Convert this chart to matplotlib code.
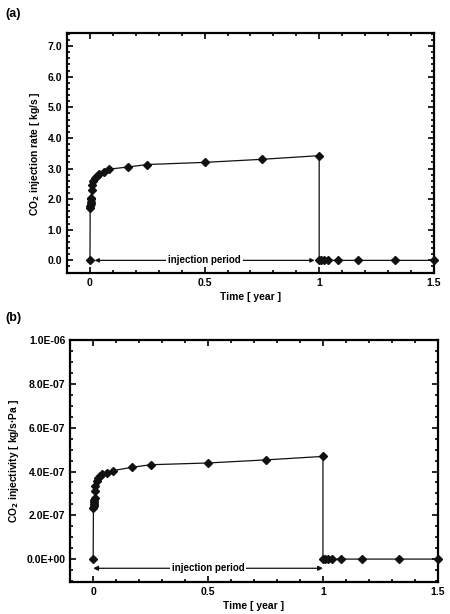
import matplotlib
matplotlib.use("Agg")
import matplotlib.pyplot as plt
from matplotlib.ticker import MultipleLocator, FormatStrFormatter, FuncFormatter
import numpy as np

plt.rcParams['font.family'] = ['Liberation Sans', 'DejaVu Sans']
plt.rcParams['font.weight'] = 'bold'

# ---- data ----
t_inj = [0.0, 0.001, 0.002, 0.003, 0.004, 0.005, 0.006, 0.008, 0.010, 0.015,
         0.020, 0.030, 0.040, 0.060, 0.085, 0.167, 0.250, 0.500, 0.750, 1.000]
rate_inj = [0.0, 1.72, 1.78, 1.85, 1.92, 2.00, 2.05, 2.30, 2.45, 2.60,
            2.68, 2.75, 2.82, 2.90, 2.98, 3.05, 3.13, 3.20, 3.30, 3.42]
injectivity_inj = [0.0, 2.35, 2.42, 2.50, 2.60, 2.70, 2.80, 3.10, 3.35, 3.55,
                   3.70, 3.80, 3.88, 3.93, 4.04, 4.19, 4.31, 4.39, 4.53, 4.69]  # x1e-7

t_post = [1.0, 1.01, 1.02, 1.04, 1.08, 1.17, 1.33, 1.50]
rate_post = [0, 0, 0, 0, 0, 0, 0, 0]
injectivity_post = [0, 0, 0, 0, 0, 0, 0, 0]

x_ticks = [0, 0.5, 1, 1.5]
x_tick_labels = ["0", "0.5", "1", "1.5"]

t_all = t_inj + t_post
rate_all = rate_inj + rate_post
inj_all = [v * 1e-7 for v in injectivity_inj] + [v * 1e-7 for v in injectivity_post]

fig = plt.figure(figsize=(4.5, 6.14), dpi=100)
ax1 = fig.add_axes([0.149, 0.555, 0.815, 0.391])
ax2 = fig.add_axes([0.156, 0.052, 0.817, 0.394])

lc = '#111111'
fs_tick = 7.5
fs_lab = 7.4

def style(ax):
    for s in ax.spines.values():
        s.set_linewidth(1.6)
    ax.tick_params(which='both', direction='in', top=True, right=True, labelsize=fs_tick, width=1.2)
    ax.tick_params(which='major', length=4)
    ax.tick_params(which='minor', length=2.2)
    ax.set_xlim(-0.1, 1.5)
    ax.set_xticks(x_ticks)
    ax.set_xticklabels(x_tick_labels)
    ax.xaxis.set_minor_locator(MultipleLocator(0.1))
    for lab in ax.get_xticklabels() + ax.get_yticklabels():
        lab.set_fontweight('bold')
    ax.set_xlabel("Time [ year ]", fontsize=fs_lab, fontweight='bold', labelpad=3)

# panel a
ax1.plot(t_all, rate_all, color=lc, lw=0.9, marker='D', ms=4, mfc=lc, mec=lc, zorder=3, clip_on=False)
ax1.set_ylim(-0.42, 7.42)
ax1.set_yticks(np.arange(0, 7.01, 1.0))
ax1.yaxis.set_major_formatter(FormatStrFormatter('%.1f'))
ax1.yaxis.set_minor_locator(MultipleLocator(0.2))
style(ax1)
ax1.set_ylabel("CO$_2$ injection rate [ kg/s ]", fontsize=fs_lab, fontweight='bold', labelpad=4)
ax1.annotate("", xy=(0.02, 0), xytext=(0.98, 0),
             arrowprops=dict(arrowstyle='<|-|>', color=lc, lw=0.9, mutation_scale=6, shrinkA=0, shrinkB=0), zorder=2)
ax1.text(0.5, 0, "injection period", ha='center', va='center', fontsize=7, fontweight='bold',
         bbox=dict(facecolor='white', edgecolor='none', pad=1.5), zorder=4)
fig.text(0.012, 0.977, "(a)", fontsize=9, fontweight='bold', ha='left', va='center')

# panel b
ax2.plot(t_all, inj_all, color=lc, lw=0.9, marker='D', ms=4, mfc=lc, mec=lc, zorder=3, clip_on=False)
ax2.set_ylim(-1.05e-7, 1.0e-6)
ax2.set_yticks(np.arange(0, 1.01e-6, 2e-7))
ax2.yaxis.set_major_formatter(FuncFormatter(lambda v, p: "%.1E" % v))
ax2.yaxis.set_minor_locator(MultipleLocator(0.5e-7))
style(ax2)
ax2.set_ylabel("CO$_2$ injectivity [ kg/s·Pa ]", fontsize=fs_lab, fontweight='bold', labelpad=4)
ax2.annotate("", xy=(0.0, -0.42e-7), xytext=(1.0, -0.42e-7),
             arrowprops=dict(arrowstyle='<|-|>', color=lc, lw=0.9, mutation_scale=7, shrinkA=0, shrinkB=0), zorder=2)
ax2.text(0.5, -0.42e-7, "injection period", ha='center', va='center', fontsize=7, fontweight='bold',
         bbox=dict(facecolor='white', edgecolor='none', pad=1.5), zorder=4)
fig.text(0.012, 0.482, "(b)", fontsize=9, fontweight='bold', ha='left', va='center')

fig.savefig("out.png", dpi=100)
